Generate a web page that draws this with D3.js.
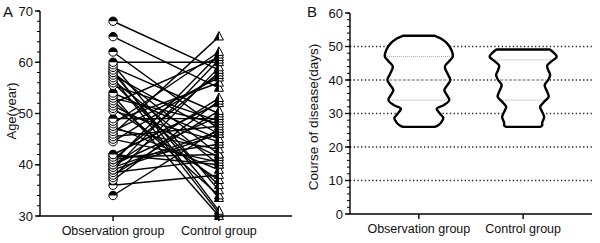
<!DOCTYPE html>
<html><head><meta charset="utf-8">
<script src="https://cdn.jsdelivr.net/npm/d3@7"></script>
<style>body{margin:0;background:#fff}svg{display:block}text{font-family:"Liberation Sans",Arial,sans-serif;fill:#111}</style>
</head><body><svg id="c" width="600" height="243"></svg>
<script>
// ---------- Data ----------
const groups = ["Observation group", "Control group"];
// Panel A: paired ages (observation -> control)
const ageObservation = [68,65,62,60,59.5,59,58.5,58,57.5,57,56.5,56,55.5,54,53.5,53,52.5,52,51.5,51,50.5,49,48.5,48,47.5,47,46.5,46,45.5,45,44.5,42,41.5,41,40.5,40,39.5,39,38.5,38,37.5,37,36,34,42,41,39,40,58];
const ageControl     = [58.5,55,47,60,35,50,31,42,46,30.5,40,36,48.5,45,30,48,34,61,41.5,37,44.5,49,56,62,39,43,57,65,47.5,40.5,57.5,52,42,58,61.5,53,46.5,60.5,41,50.5,59,52.5,38,47,40,44,46,49.5,33.5];
const ageTicks = [30,40,50,60,70];
// Panel B: violin outlines (course value, relative density) and quartiles
const obsViolinValue   = [26,26.4,27.2,28.6,30,31.5,32.5,34,35.5,37,38.5,40,42,44,45.5,47,49,51,52.4,53.2];
const obsViolinDensity = [16,19,22,24.5,21,18,25,30.5,28,25.5,28.5,31.5,28.5,26,30,34,32.5,28,22,16];
const ctlViolinValue   = [26,26.4,27.2,29,30.5,32,33.5,35,36.5,38.5,40,41.5,43,44.3,45.5,47,48.3,49.1];
const ctlViolinDensity = [17,19,19,21,19,17,21,25.5,24,21.5,25,27,25,24,28,33.5,30,26.7];
const obsQuartiles = [34,40,47];
const ctlQuartiles = [34,40,46];
const courseTicks = [0,10,20,30,40,50,60];
const courseGrid = [10,20,30,40,50];

// ---------- Drawing ----------
const svg = d3.select("#c");
const FONT = 12.5;

function yAxis(g, y, ticks, minorStep){
  const [d0,d1] = y.domain();
  const minors = d3.range(d0, d1 + 0.001, minorStep);
  g.append("line").attr("x1",0).attr("x2",0).attr("y1",y(d0)).attr("y2",y(d1)).attr("stroke","#000").attr("stroke-width",1.4);
  g.selectAll(".mn").data(minors).join("line").attr("x1",-3).attr("x2",0).attr("y1",d=>y(d)).attr("y2",d=>y(d)).attr("stroke","#000").attr("stroke-width",1);
  g.selectAll(".mj").data(ticks).join("line").attr("x1",-5).attr("x2",0).attr("y1",d=>y(d)).attr("y2",d=>y(d)).attr("stroke","#000").attr("stroke-width",1.4);
  g.selectAll(".tl").data(ticks).join("text").attr("x",-7).attr("y",d=>y(d)).attr("dy","0.36em").attr("text-anchor","end").attr("font-size",13).text(d=>d);
}
function xAxis(g, x, yPos, x0, x1){
  g.append("line").attr("x1",x0).attr("x2",x1).attr("y1",yPos).attr("y2",yPos).attr("stroke","#000").attr("stroke-width",1.4);
  g.selectAll(".xt").data(groups).join("line").attr("x1",d=>x(d)).attr("x2",d=>x(d)).attr("y1",yPos).attr("y2",yPos+5).attr("stroke","#000").attr("stroke-width",1.4);
  g.selectAll(".xl").data(groups).join("text").attr("x",d=>x(d)).attr("y",yPos+19).attr("text-anchor","middle").attr("font-size",FONT).text(d=>d);
}

// ----- Panel A -----
const xA = d3.scalePoint().domain(groups).range([40,292]).padding(0.69);
const yA = d3.scaleLinear().domain([30,70]).range([216,11]);
const gA = svg.append("g");
const pairs = ageObservation.map((v,i)=>({o:v,c:ageControl[i]}));
gA.selectAll(".pl").data(pairs).join("line")
  .attr("x1",xA(groups[0])).attr("x2",xA(groups[1]))
  .attr("y1",d=>yA(d.o)).attr("y2",d=>yA(d.c))
  .attr("stroke","#000").attr("stroke-width",1.4);
// circles: top half black, bottom white
const r = 4.2;
const cg = gA.selectAll(".cp").data([...ageObservation].sort((a,b)=>a-b)).join("g")
  .attr("transform",d=>`translate(${xA(groups[0])},${yA(d)})`);
cg.append("circle").attr("r",r).attr("fill","#fff").attr("stroke","#000").attr("stroke-width",1);
cg.append("path").attr("d",`M${-r},0 A${r},${r} 0 0 1 ${r},0 Z`).attr("fill","#000");
// triangles: left half black, right white
const th = 8.5, tw = 9;
const tg = gA.selectAll(".tp").data([...ageControl].sort((a,b)=>a-b)).join("g")
  .attr("transform",d=>`translate(${xA(groups[1])},${yA(d)})`);
tg.append("path").attr("d",`M0,${-th*0.6} L${tw/2},${th*0.4} L${-tw/2},${th*0.4} Z`).attr("fill","#fff").attr("stroke","#000").attr("stroke-width",1);
tg.append("path").attr("d",`M0,${-th*0.6} L0,${th*0.4} L${-tw/2},${th*0.4} Z`).attr("fill","#000");
yAxis(gA.append("g").attr("transform","translate(40,0)"), yA, ageTicks, 2);
xAxis(gA, xA, 216, 40, 292);
gA.append("text").attr("transform","translate(16,111) rotate(-90)").attr("text-anchor","middle").attr("font-size",13).text("Age(year)");
svg.append("text").attr("x",3).attr("y",17).attr("font-size",15).text("A");

// ----- Panel B -----
const xB = d3.scalePoint().domain(groups).range([350,592]).padding(0.66);
const yB = d3.scaleLinear().domain([0,60]).range([214,13]);
const wB = d3.scaleLinear().domain([0,1]).range([0,1]);
const gB = svg.append("g");
gB.selectAll(".gl").data(courseGrid).join("line")
  .attr("x1",350).attr("x2",592).attr("y1",d=>yB(d)).attr("y2",d=>yB(d))
  .attr("stroke","#222").attr("stroke-width",1.4).attr("stroke-dasharray","1.3,2.4");
const violins = [
  {g:groups[0], v:obsViolinValue, d:obsViolinDensity, q:obsQuartiles},
  {g:groups[1], v:ctlViolinValue, d:ctlViolinDensity, q:ctlQuartiles}
];
violins.forEach(vi=>{
  const cx = xB(vi.g);
  const right = vi.v.map((v,i)=>[cx + wB(vi.d[i]), yB(v)]);
  const left = vi.v.map((v,i)=>[cx - wB(vi.d[i]), yB(v)]).reverse();
  const line = d3.line().curve(d3.curveCatmullRom.alpha(0.5));
  const p = line(right) + "L" + line(left).slice(1) + "Z";
  gB.append("path").attr("d",p).attr("fill","#fff").attr("stroke","#000").attr("stroke-width",2.4).attr("stroke-linejoin","round");
  vi.q.forEach((q,qi)=>{
    const w = d3.scaleLinear().domain(vi.v).range(vi.d)(q);
    gB.append("line").attr("x1",cx-w+2).attr("x2",cx+w-2).attr("y1",yB(q)).attr("y2",yB(q))
      .attr("stroke", qi===1 ? "#666" : "#999").attr("stroke-width", qi===1?1.2:0.9)
      .attr("stroke-dasharray", qi===1 ? "3,1.5" : "1,1");
  });
});
yAxis(gB.append("g").attr("transform","translate(350,0)"), yB, courseTicks, 2);
xAxis(gB, xB, 214, 350, 592);
gB.append("text").attr("transform","translate(318,117) rotate(-90)").attr("text-anchor","middle").attr("font-size",13.5).text("Course of disease(days)");
svg.append("text").attr("x",307).attr("y",17).attr("font-size",15).text("B");
</script></body></html>
